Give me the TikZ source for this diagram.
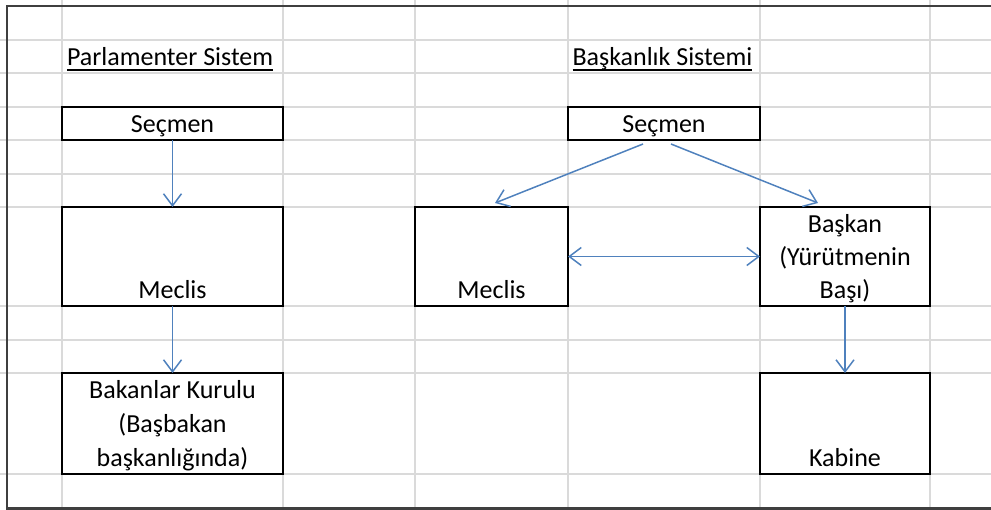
\documentclass[tikz,border=0pt]{standalone}
\usepackage{fontspec}
\setmainfont{Carlito}
\usetikzlibrary{arrows.meta,calc}

\definecolor{gridgray}{HTML}{DADADA}
\definecolor{framegray}{HTML}{3F3F3F}
\definecolor{arrowblue}{HTML}{4F81BD}

\tikzset{
  cellbox/.style={draw=black, line width=2pt, fill=white, inner sep=0pt, outer sep=0pt},
  celltext/.style={font=\fontsize{26}{34}\selectfont, inner sep=0pt, outer sep=0pt, align=center, anchor=base},
  titletext/.style={font=\fontsize{26}{34}\selectfont, inner sep=0pt, outer sep=0pt, anchor=base west},
  gridline/.style={draw=gridgray, line width=1.5pt},
  barb/.style={Straight Barb[length=12pt, width=18pt, line width=1.5pt]},
  flow/.style={draw=arrowblue, line width=1.5pt, -{Straight Barb[length=12pt, width=18pt, line width=1.5pt]}},
  flowboth/.style={draw=arrowblue, line width=1.5pt, {Straight Barb[length=12pt, width=18pt, line width=1.5pt]}-{Straight Barb[length=12pt, width=18pt, line width=1.5pt]}}
}

\begin{document}
\begin{tikzpicture}[x=1pt, y=-1pt]
  \useasboundingbox (0,0) rectangle (991,510);

  % worksheet grid
  \foreach \gy in {40,73,107,140,174,207,306,340,373,474}
    \draw[gridline] (0,\gy) -- (991,\gy);
  \foreach \gx in {62,283,415,568,760,930}
    \draw[gridline] (\gx,0) -- (\gx,510);

  % outer frame (open on the right)
  \draw[draw=framegray, line width=2.5pt] (991,6) -- (7,6) -- (7,508.5) -- (991,508.5);

  % titles
  \node[titletext] (t1) at (67,65.5) {Parlamenter Sistem};
  \node[titletext] (t2) at (572.5,65.5) {Başkanlık Sistemi};
  \draw[line width=1.5pt] ($(t1.base west)+(0,4.5)$) -- ($(t1.base east)+(0,4.5)$);
  \draw[line width=1.5pt] ($(t2.base west)+(0,4.5)$) -- ($(t2.base east)+(0,4.5)$);

  % parliamentary system boxes
  \node[cellbox, minimum width=221pt, minimum height=33pt] (s1) at (172.5,123.5) {};
  \node[cellbox, minimum width=221pt, minimum height=99pt] (m1) at (172.5,256.5) {};
  \node[cellbox, minimum width=221pt, minimum height=101pt] (b1) at (172.5,423.5) {};

  % presidential system boxes
  \node[cellbox, minimum width=192pt, minimum height=33pt] (s2) at (664,123.5) {};
  \node[cellbox, minimum width=153pt, minimum height=99pt] (m2) at (491.5,256.5) {};
  \node[cellbox, minimum width=170pt, minimum height=99pt] (p2) at (845,256.5) {};
  \node[cellbox, minimum width=170pt, minimum height=101pt] (k2) at (845,423.5) {};

  % cell texts, bottom aligned (base = baseline of the last line)
  \node[celltext] (s1t) at (172.5,132.5) {Seçmen};
  \node[celltext] (m1t) at (172.5,298.5) {Meclis};
  \node[celltext] (b1t) at (172.5,467) {Bakanlar Kurulu\\(Başbakan\\başkanlığında)};
  \node[celltext] (s2t) at (664,132.5) {Seçmen};
  \node[celltext] (m2t) at (491.5,298.5) {Meclis};
  \node[celltext, font=\fontsize{26}{33}\selectfont] (p2t) at (845,298.5) {Başkan\\(Yürütmenin\\Başı)};
  \node[celltext] (k2t) at (845,467) {Kabine};

  % connectors
  \draw[flow] (s1.south) -- (m1.north);
  \draw[flow] (m1.south) -- (b1.north);
  \coordinate (sl) at ($(s2.south)+(-21,4)$);
  \coordinate (sr) at ($(s2.south)+(7,4)$);
  \coordinate (ml) at ($(m2.north)+(3.5,-4)$);
  \coordinate (pr) at ($(p2.north)+(-27,-4)$);
  \draw[flow] (sl) -- (ml);
  \draw[flow] (sr) -- (pr);
  \draw[flowboth] (m2.east) -- (p2.west);
  \draw[flow] (p2.south) -- (k2.north);
\end{tikzpicture}
\end{document}
